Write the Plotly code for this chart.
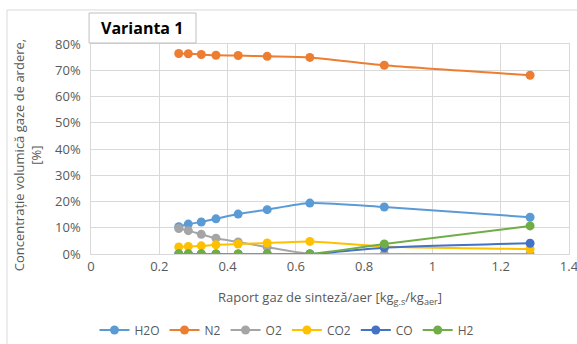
import plotly.graph_objects as go

x_ratio = [0.257, 0.285, 0.323, 0.366, 0.431, 0.516, 0.641, 0.859, 1.286]
h2o = [10.4, 11.4, 12.2, 13.4, 15.2, 16.9, 19.4, 17.9, 14.0]
n2 = [76.4, 76.3, 76.0, 75.7, 75.6, 75.3, 74.9, 71.9, 68.1]
o2 = [9.7, 8.9, 7.5, 6.0, 4.6, 2.6, 0.0, 0.0, 0.0]
co2 = [2.7, 2.9, 3.1, 3.5, 3.8, 4.2, 4.8, 2.9, 1.9]
co = [0.0, 0.0, 0.0, 0.0, 0.0, 0.0, 0.0, 2.4, 4.1]
h2 = [0.0, 0.0, 0.0, 0.0, 0.0, 0.0, 0.0, 3.8, 10.7]
x_ticks = [0, 0.2, 0.4, 0.6, 0.8, 1, 1.2, 1.4]
x_tick_text = ["0", "0.2", "0.4", "0.6", "0.8", "1", "1.2", "1.4"]

series = [
    ("H2O", h2o, "#5B9BD5"),
    ("N2", n2, "#ED7D31"),
    ("O2", o2, "#A5A5A5"),
    ("CO2", co2, "#FFC000"),
    ("CO", co, "#4472C4"),
    ("H2", h2, "#70AD47"),
]

fig = go.Figure()
for name, vals, col in series:
    fig.add_trace(go.Scatter(
        x=x_ratio, y=[v / 100 for v in vals], name=name,
        mode="lines+markers",
        line=dict(color=col, width=2, shape="spline", smoothing=0.6),
        marker=dict(color=col, size=9),
    ))

font = "Open Sans, Liberation Sans, sans-serif"
gray = "#595959"
fig.update_layout(
    width=577, height=344,
    margin=dict(l=91, r=8, t=44, b=90, autoexpand=False),
    paper_bgcolor="white", plot_bgcolor="white",
    font=dict(family=font, size=12, color=gray),
    showlegend=True,
    legend=dict(orientation="h", x=0.41, xanchor="center", y=-0.362, yanchor="middle",
                font=dict(size=12, color=gray), tracegroupgap=0),
    xaxis=dict(range=[0, 1.40001], tickvals=x_ticks, ticktext=x_tick_text,
               ticklabeloverflow="allow",
               showgrid=True, gridcolor="#D9D9D9",
               zeroline=False, showline=True, linecolor="#D9D9D9", mirror=True,
               tickfont=dict(size=13, color=gray), ticks=""),
    yaxis=dict(range=[0, 0.8], dtick=0.1, tickformat=".0%", showgrid=True,
               gridcolor="#D9D9D9", zeroline=False, showline=True, linecolor="#D9D9D9",
               mirror=True, tickfont=dict(size=13, color=gray), ticks="", ticksuffix="  "),
    shapes=[
        dict(type="rect", xref="paper", yref="paper", x0=-0.1757, x1=1.03, y0=-0.55, y1=1.162,
             line=dict(color="#D9D9D9", width=1), fillcolor="rgba(0,0,0,0)", layer="below"),
        dict(type="rect", xref="paper", yref="paper", x0=-0.004, x1=0.2197, y0=1.0048, y1=1.1476,
             line=dict(color="#BFBFBF", width=1), fillcolor="white"),
    ],
    annotations=[
        dict(text="<b>Varianta 1</b>", xref="paper", yref="paper", x=0.107, y=1.076,
             xanchor="center", yanchor="middle", showarrow=False,
             font=dict(size=16, color="#000000", family=font)),
        dict(text="Concentrație volumică gaze de ardere,<br>[%]", xref="paper", yref="paper",
             x=-0.134, y=0.47, xanchor="center", yanchor="middle", textangle=-90,
             showarrow=False, font=dict(size=13, color=gray, family=font)),
        dict(text="Raport gaz de sinteză/aer [kg<sub>g.s</sub>/kg<sub>aer</sub>]",
             xref="paper", yref="paper", x=0.5, y=-0.21, xanchor="center", yanchor="middle",
             showarrow=False, font=dict(size=13, color=gray, family=font)),
    ],
)

fig.write_html("out.html")
